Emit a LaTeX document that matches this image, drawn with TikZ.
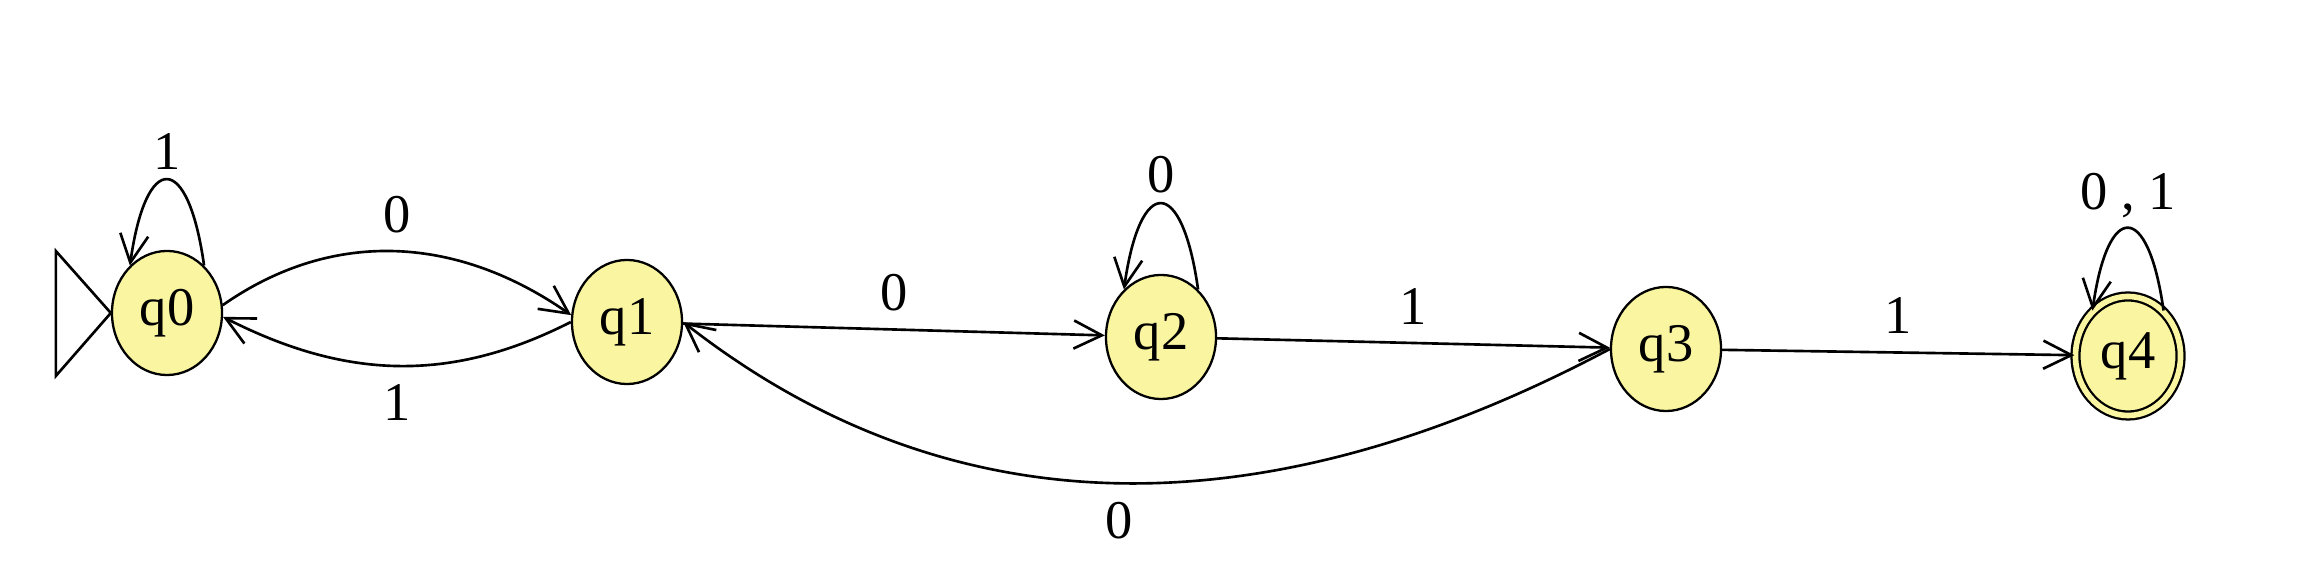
\documentclass[tikz,border=0pt]{standalone}
\usepackage{fontspec}
\setmainfont{Liberation Serif}
\usetikzlibrary{arrows.meta,shapes.geometric}
\definecolor{statefill}{RGB}{250,245,160}
\tikzset{
  state/.style={ellipse,draw=black,line width=0.65pt,fill=statefill,
    minimum width=1.1cm,minimum height=1.24cm,inner sep=0pt},
  accept/.style={state,double=statefill,double distance=1.6pt,
    minimum width=1.05cm,minimum height=1.19cm},
  edge/.style={draw=black,line width=0.75pt,->},
  lbl/.style={inner sep=5pt},
  looplbl/.style={above,inner sep=2.5pt},
  every node/.style={font=\fontsize{15.5pt}{18pt}\selectfont},
  >={Straight Barb[length=8pt,width=8pt]}
}
\begin{document}
\begin{tikzpicture}[x=0.01cm,y=0.01cm]
\useasboundingbox (0,0) rectangle (2312,-568);
\node[state]  (q0) at (167,-313) {q0};
\node[state]  (q1) at (627,-322) {q1};
\node[state]  (q2) at (1161,-337) {q2};
\node[state]  (q3) at (1666,-349) {q3};
\node[accept] (q4) at (2128,-356) {q4};
% initial marker
\draw[line width=0.75pt] (q0.west) -- ++(-55,62) -- ++(0,-125) -- cycle;
% loops
\draw[edge] (q0.52) to[out=98,in=82,looseness=4] node[looplbl] {1} (q0.128);
\draw[edge] (q2.52) to[out=98,in=82,looseness=4] node[looplbl] {0} (q2.128);
\draw[edge] (q4.52) to[out=98,in=82,looseness=4] node[looplbl] {0 , 1} (q4.128);
% transitions
\draw[edge] (q0.8) to[out=35,in=145] node[lbl,above] {0} (q1.173);
\draw[edge] (q1.180) to[out=207,in=-27] node[lbl,below] {1} (q0.-4);
\draw[edge] (q1) -- node[lbl,above] {0} (q2);
\draw[edge] (q2) -- node[lbl,above] {1} (q3);
\draw[edge] (q3) -- node[lbl,above] {1} (q4);
\draw[edge] (q3.west) to[out=208,in=-38] node[lbl,below,pos=0.515] {0} (q1.east);
\end{tikzpicture}
\end{document}
